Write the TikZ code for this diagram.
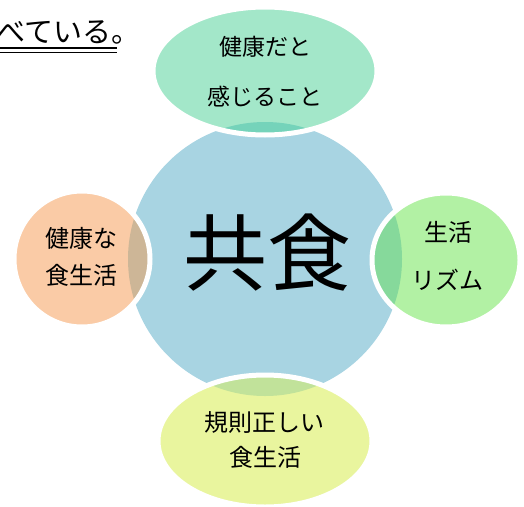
\documentclass[tikz,border=0pt]{standalone}
\usepackage{fontspec}
\newfontfamily\jp{Noto Sans CJK JP}
\definecolor{cblue}{HTML}{A8D4E2}
\definecolor{ctop}{HTML}{A3E7C9}
\definecolor{ctopov}{HTML}{75D3BA}
\definecolor{cleft}{HTML}{FACBA6}
\definecolor{cleftov}{HTML}{CDB697}
\definecolor{cright}{HTML}{B2F1A4}
\definecolor{crightov}{HTML}{86D99B}
\definecolor{cbot}{HTML}{E9F59E}
\definecolor{cbotov}{HTML}{C1E29A}
\tikzset{
  rim/.style={draw=white, line width=5pt},
  lbl/.style={font=\jp\fontsize{23}{23}\selectfont, inner sep=0pt, text=black},
}
\begin{document}
\begin{tikzpicture}[x=1pt,y=-1pt]
\useasboundingbox (0,0) rectangle (524,506);
% central circle
\fill[cblue] (265,259) circle (137pt);
% top ellipse
\fill[ctop] (265,71) ellipse [x radius=112pt, y radius=64pt];
\begin{scope}
  \clip (265,259) circle (137pt);
  \fill[ctopov] (265,71) ellipse [x radius=112pt, y radius=64pt];
\end{scope}
\draw[rim] (265,71) ellipse [x radius=112pt, y radius=64pt];
% left circle
\fill[cleft] (82,259) circle (68pt);
\begin{scope}
  \clip (265,259) circle (137pt);
  \fill[cleftov] (82,259) circle (68pt);
\end{scope}
\draw[rim] (82,259) circle (68pt);
% right circle
\fill[cright] (446,260) ellipse [x radius=74pt, y radius=67pt];
\begin{scope}
  \clip (265,259) circle (137pt);
  \fill[crightov] (446,260) ellipse [x radius=74pt, y radius=67pt];
\end{scope}
\draw[rim] (446,260) ellipse [x radius=74pt, y radius=67pt];
% bottom ellipse
\fill[cbot] (265,441) ellipse [x radius=107pt, y radius=66pt];
\begin{scope}
  \clip (265,259) circle (137pt);
  \fill[cbotov] (265,441) ellipse [x radius=107pt, y radius=66pt];
\end{scope}
\draw[rim] (265,441) ellipse [x radius=107pt, y radius=66pt];
% texts
\node[lbl, font=\jp\fontsize{84}{84}\selectfont] (center) at (267,253) {共食};
\node[lbl] (top1) at (265,47) {健康だと};
\node[lbl] (top2) at (265,97) {感じること};
\node[lbl, font=\jp\fontsize{24}{24}\selectfont] (left1) at (81,238) {健康な};
\node[lbl, font=\jp\fontsize{24}{24}\selectfont] (left2) at (81,275) {食生活};
\node[lbl, font=\jp\fontsize{24}{24}\selectfont] (right1) at (448,232) {生活};
\node[lbl, font=\jp\fontsize{24}{24}\selectfont] (right2) at (447,280) {リズム};
\node[lbl, font=\jp\fontsize{24}{24}\selectfont] (bot1) at (264,423) {規則正しい};
\node[lbl, font=\jp\fontsize{24}{24}\selectfont] (bot2) at (265,457) {食生活};
% top-left text
\node[lbl, font=\jp\fontsize{29}{29}\selectfont, anchor=base west] (head) at (-4,42) {べている。};
\coordinate (ul1a) at (0,48);
\coordinate (ul1b) at (117,48);
\coordinate (ul2a) at (0,52.5);
\coordinate (ul2b) at (117,52.5);
\draw[line width=2.4pt] (ul1a) -- (ul1b);
\draw[line width=1.2pt] (ul2a) -- (ul2b);
\end{tikzpicture}
\end{document}
